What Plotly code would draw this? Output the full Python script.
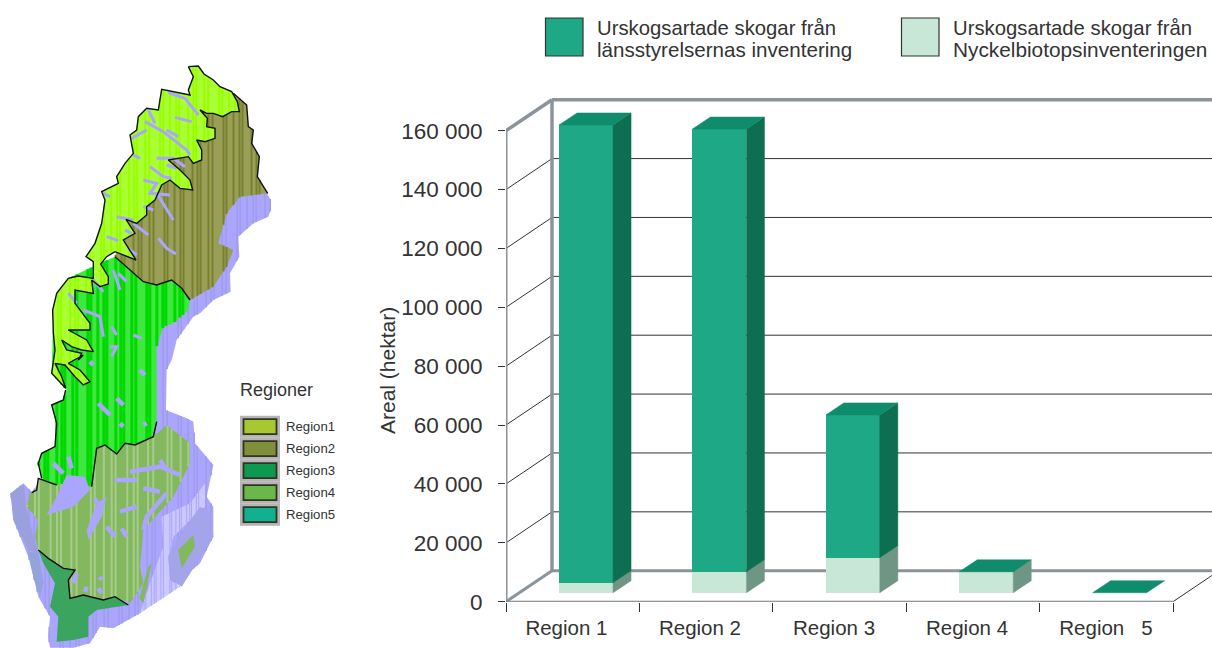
import plotly.graph_objects as go

# ---------- chart data ----------
regions = ["Region 1", "Region 2", "Region 3", "Region 4", "Region\u00a0\u00a0\u00a05"]
lansstyrelsen = [155500, 150400, 48500, 0, 0]
nyckelbiotop = [3400, 7100, 11900, 7100, 0]
y_ticks = [0, 20000, 40000, 60000, 80000, 100000, 120000, 140000, 160000]
y_labels = ["0", "20 000", "40 000", "60 000", "80 000", "100 000", "120 000", "140 000", "160 000"]

W, H = 1212, 648
PX_X = 133.4
PX_Y = 471 / 160000
X0, Y0 = 506, 601.7
wall_dx, wall_dy = 46 / PX_X, 31 / PX_Y
bar_dx, bar_dy = 18 / PX_X, 12 / PX_Y
bar_w = 54 / PX_X
bar_base = 9 / PX_Y
centers = [i + 0.6 for i in range(5)]
label_pos = [0.453, 1.454, 2.459, 3.456, 4.498]
FRAME = "#8b939b"
DARK, DARK_SIDE, DARK_TOP = "#1fa885", "#0e6e52", "#0e8c6c"
LIGHT, LIGHT_SIDE = "#c9e7d6", "#6f9584"

fig = go.Figure()
ax = dict(xaxis="x", yaxis="y", hoverinfo="skip", showlegend=False)
ov = dict(xaxis="x3", yaxis="y3", hoverinfo="skip", showlegend=False)


def line(xs, ys, color, width, clip=True):
    fig.add_trace(go.Scatter(x=xs, y=ys, mode="lines", line=dict(color=color, width=width),
                             cliponaxis=clip, **ax))


def face(xs, ys, color):
    fig.add_trace(go.Scatter(x=xs, y=ys, mode="lines", fill="toself", fillcolor=color,
                             line=dict(color=color, width=0.5), **ov))


xmax = (W - X0) / PX_X
for v in y_ticks[1:-1]:
    line([wall_dx, xmax], [v + wall_dy] * 2, "#333333", 1)
    line([0, wall_dx], [v, v + wall_dy], "#333333", 1)
line([5, 5 + wall_dx], [0, wall_dy], "#333333", 1)
line([wall_dx, xmax], [wall_dy, wall_dy], FRAME, 3, False)
line([wall_dx, xmax], [160000 + wall_dy] * 2, FRAME, 3.5, False)
line([wall_dx, wall_dx], [wall_dy, 160000 + wall_dy], FRAME, 3.5, False)
line([0, wall_dx], [0, wall_dy], FRAME, 3, False)
line([0, wall_dx], [160000, 160000 + wall_dy], FRAME, 3.5, False)
line([0, 0], [0, 160000], FRAME, 3, False)
line([0, 5], [0, 0], "#6f767c", 2, False)

fig.add_trace(go.Bar(x=centers, y=nyckelbiotop, base=[bar_base] * 5, width=bar_w,
                     marker=dict(color=LIGHT, line=dict(width=0)), **ov))
fig.add_trace(go.Bar(x=centers, y=lansstyrelsen,
                     base=[bar_base + n for n in nyckelbiotop], width=bar_w,
                     marker=dict(color=DARK, line=dict(width=0)), **ov))

for c, n, d in zip(centers, nyckelbiotop, lansstyrelsen):
    r = c + bar_w / 2
    l = c - bar_w / 2
    b0, b1, b2 = bar_base, bar_base + n, bar_base + n + d
    if n:
        face([r, r + bar_dx, r + bar_dx, r, r], [b0, b0 + bar_dy, b1 + bar_dy, b1, b0], LIGHT_SIDE)
    if d:
        face([r, r + bar_dx, r + bar_dx, r, r], [b1, b1 + bar_dy, b2 + bar_dy, b2, b1], DARK_SIDE)
    face([l, r, r + bar_dx, l + bar_dx, l], [b2, b2, b2 + bar_dy, b2 + bar_dy, b2], DARK_TOP)


# ---------- map (decorative outlines) ----------
def z1(p):
    return [(x / 3, 60 + y / 3) for x, y in p]


def z2(p):
    return [(x / 3, 350 + y / 3) for x, y in p]


LAVENDER = "#aaa5ff"
silhouette = z1([(790, 380), (812, 420), (812, 450), (805, 470), (760, 490), (715, 530), (718, 590), (690, 640), (692, 695),
                 (640, 720), (600, 760), (580, 770), (530, 840), (515, 900)]) + \
    z2([(500, 60), (498, 180), (560, 205), (580, 215), (585, 280), (640, 345), (620, 440), (640, 470), (640, 560),
        (600, 640), (420, 790), (385, 810), (340, 835), (300, 830), (270, 880), (220, 893), (150, 893), (145, 860),
        (150, 800), (115, 740), (85, 620), (40, 510), (32, 430), (70, 400), (95, 425), (200, 300)]) + \
    z1([(500, 500)])
light_sea = z2([(485, 500), (570, 460), (615, 400), (615, 470), (590, 490), (520, 560), (505, 620), (510, 690),
                (540, 710), (420, 790), (450, 700), (490, 590)])
oland_ring = z2([(600, 470), (635, 490), (640, 560), (590, 640), (545, 710), (510, 690), (505, 620), (530, 570)])
west_tint = z2([(32, 430), (40, 510), (85, 600), (115, 610), (100, 560), (78, 470), (72, 402)])
south_tint = z2([(85, 605), (115, 610), (130, 700), (120, 740), (100, 680)])
region2 = z1([(700, 100), (740, 135), (745, 200), (760, 210), (755, 250), (778, 290), (772, 350), (803, 400),
              (720, 410), (680, 460), (655, 550), (700, 570), (680, 620), (640, 680), (570, 720), (545, 685),
              (515, 660), (470, 675), (430, 665), (385, 625), (345, 590), (400, 400), (600, 150)])
region1 = z1([(565, 20), (595, 18), (612, 42), (640, 60), (660, 80), (695, 95), (712, 125), (718, 155), (695, 155),
              (668, 170), (640, 160), (620, 160), (600, 150), (622, 175), (620, 200), (645, 205), (645, 235),
              (615, 245), (590, 240), (605, 270), (605, 300), (580, 310), (565, 290), (530, 295), (505, 300),
              (540, 330), (570, 360), (578, 390), (540, 385), (510, 360), (485, 375), (465, 420), (440, 440),
              (440, 465), (410, 490), (378, 478), (405, 520), (370, 540), (408, 600), (345, 575), (320, 590),
              (302, 612), (325, 650), (325, 672), (300, 680), (275, 660), (280, 700), (225, 690), (225, 730),
              (270, 790), (270, 810), (205, 810), (260, 840), (280, 875), (245, 870), (215, 860), (185, 840),
              (200, 870), (245, 880), (235, 900)]) + \
    z2([(250, 15), (205, 40), (240, 60), (270, 95), (250, 105), (225, 80), (195, 45), (165, 40), (185, 80), (197, 115),
        (155, 70), (165, 0)]) + \
    z1([(160, 820), (158, 750), (170, 700), (205, 655), (235, 648), (280, 655), (280, 605), (258, 590), (285, 550),
        (305, 490), (315, 420), (305, 395), (355, 370), (350, 350), (375, 310), (400, 280), (390, 225), (410, 210),
        (415, 170), (440, 145), (475, 150), (485, 88), (520, 95), (570, 105), (565, 90), (580, 50)])
region3 = z1([(300, 610), (345, 590), (385, 625), (430, 665), (470, 675), (515, 660), (545, 685), (570, 720),
              (565, 750), (520, 790), (490, 800), (470, 860), (470, 900)]) + \
    z2([(470, 215), (460, 260), (405, 285), (375, 280), (350, 312), (315, 285), (290, 295), (275, 410), (200, 400),
        (170, 405), (125, 385), (115, 340), (125, 310), (165, 290), (170, 220), (155, 165), (190, 150), (200, 120),
        (155, 70)]) + z1([(160, 750), (205, 655)])
region4 = z2([(290, 295), (315, 285), (350, 312), (375, 280), (405, 285), (460, 260), (500, 225), (570, 280),
              (570, 340), (520, 440), (430, 540), (420, 650), (430, 700), (390, 760), (345, 740), (310, 750),
              (250, 735), (210, 745), (205, 690), (225, 660), (190, 655), (145, 625), (115, 600), (105, 560),
              (115, 510), (80, 470), (90, 430), (110, 420), (115, 385), (170, 405), (200, 400), (275, 410)])
island = z2([(535, 600), (580, 555), (585, 590), (545, 655)])
sliver = z2([(445, 650), (455, 640), (430, 760), (418, 745)])
region5 = z2([(115, 600), (145, 625), (190, 655), (225, 660), (205, 690), (210, 745), (250, 735), (310, 750),
              (345, 740), (385, 765), (290, 780), (265, 800), (265, 860), (220, 870), (170, 875), (175, 800),
              (150, 770), (165, 700), (130, 640)])
vanern = z2([(200, 375), (255, 380), (270, 420), (220, 470), (190, 480), (140, 495), (170, 440)])
vattern = z2([(320, 440), (305, 500), (265, 570), (260, 540), (290, 460)])
lakes_north = [[(505, 98), (555, 115), (595, 165)], [(525, 172), (575, 185)], [(435, 185), (490, 215), (560, 270), (570, 285)],
               [(395, 235), (440, 210)], [(500, 210), (535, 230)], [(445, 150), (465, 190)],
               [(470, 295), (520, 295), (555, 320)], [(500, 315), (530, 325)], [(450, 320), (490, 350), (515, 355)],
               [(430, 360), (470, 370), (450, 400), (510, 405)], [(470, 400), (500, 450), (520, 480)],
               [(350, 470), (400, 480)], [(430, 440), (460, 450)], [(400, 490), (445, 525)],
               [(475, 535), (500, 565), (528, 582)], [(320, 530), (355, 542)], [(375, 510), (395, 520)],
               [(385, 565), (410, 585)], [(340, 630), (360, 690)], [(355, 640), (380, 665)], [(280, 660), (310, 695)],
               [(205, 700), (230, 730)], [(250, 750), (300, 770), (310, 830)], [(335, 800), (350, 825)],
               [(400, 825), (425, 835)], [(330, 860), (350, 860), (335, 890)], [(310, 400), (330, 410)],
               [(400, 285), (420, 295)]]
lakes_south = [[(270, 35), (280, 45)], [(420, 60), (435, 75)], [(295, 160), (330, 195)], [(350, 145), (370, 165)],
               [(360, 230), (370, 220)], [(430, 225), (440, 220)], [(160, 340), (190, 370)], [(205, 320), (215, 355)],
               [(345, 390), (410, 390)], [(390, 365), (480, 350), (540, 375)], [(480, 330), (500, 360)],
               [(430, 415), (480, 425)], [(360, 485), (410, 470)], [(320, 530), (345, 560)], [(365, 535), (380, 560)],
               [(285, 445), (290, 460)], [(300, 680), (305, 690)], [(260, 710), (255, 725)], [(295, 715), (305, 730)],
               [(230, 670), (220, 700)], [(500, 430), (440, 500), (430, 540)]]
border_r4_r5 = z2([(115, 600), (145, 625), (190, 655), (225, 660), (205, 690), (210, 745), (250, 735), (310, 750),
                   (345, 740), (385, 765)])
border_r3_r4 = z2([(95, 428), (110, 420), (115, 385), (170, 405)])
border_r3_r4b = z2([(275, 410), (290, 295), (315, 285), (350, 312), (375, 280), (405, 285), (460, 260), (470, 215)])
border_r3_west = z2([(197, 120), (190, 150), (155, 165), (170, 220), (165, 290), (125, 310), (115, 340), (125, 385)])
border_r2 = z1([(700, 100), (740, 135), (745, 200), (760, 210), (755, 250), (778, 290), (772, 350), (803, 400)])
border_r2_r3 = z1([(345, 590), (385, 625), (430, 665), (470, 675), (515, 660), (545, 685), (570, 720)])

mp = dict(xaxis="x2", yaxis="y2", hoverinfo="skip", showlegend=False)
STRIPE_GAPS = [6, 3, 9, 5, 3, 8, 4, 11, 3, 7]


def scan(poly, x):
    out = []
    n = len(poly)
    for i in range(n):
        (x1, y1), (x2, y2) = poly[i], poly[(i + 1) % n]
        if (x1 <= x) != (x2 <= x):
            out.append(y1 + (x - x1) * (y2 - y1) / (x2 - x1))
    return sorted(out)


def region(poly, base, stripe=None, width=1.5, gap=1):
    xs = [p[0] for p in poly] + [poly[0][0]]
    ys = [p[1] for p in poly] + [poly[0][1]]
    fig.add_trace(go.Scatter(x=xs, y=ys, mode="lines", fill="toself", fillcolor=base,
                             line=dict(width=0), **mp))
    if stripe:
        sx, sy = [], []
        x = min(xs) + 0.5
        i = 0
        while x < max(xs):
            hits = scan(poly, x)
            for a, b in zip(hits[::2], hits[1::2]):
                sx += [x, x, None]
                sy += [a, b, None]
            x += STRIPE_GAPS[i % len(STRIPE_GAPS)] * gap
            i += 1
        fig.add_trace(go.Scatter(x=sx, y=sy, mode="lines", line=dict(color=stripe, width=width), **mp))


def path(pts, color, width):
    fig.add_trace(go.Scatter(x=[p[0] for p in pts], y=[p[1] for p in pts], mode="lines",
                             line=dict(color=color, width=width), **mp))


region(silhouette, LAVENDER, "#9f9ceb")
region(light_sea, "#cbc8ff", "#aaa5ff", 1, 0.6)
region(oland_ring, "#a4a4ea")
region(west_tint, "#9a9fde")
region(south_tint, "#93a4da")
region(region2, "#9a9f58", "#79802f", 2)
region(region3, "#3fe83f", "#00d800", 3)
region(region4, "#84b85e", "#a6cc8a", 2, 1.3)
region(island, "#84b85e")
region(sliver, "#84b85e")
region(region5, "#3ba55f")
region(region1, "#a8ff33", "#99ff00", 2)
region(vanern, LAVENDER)
region(vattern, LAVENDER)
for lk in lakes_north:
    path(z1(lk), LAVENDER, 3)
for lk in lakes_south:
    path(z2(lk), LAVENDER, 4.5)
path(region1 + region1[:1], "#111111", 1.4)
for b in (border_r2, border_r2_r3, border_r3_r4, border_r3_r4b, border_r3_west, border_r4_r5):
    path(b, "#111111", 1.4)

# ---------- text, legends ----------
ann = []


def text(x, y, s, size, anchor="left", angle=0):
    ann.append(dict(x=x / W, y=1 - y / H, xref="paper", yref="paper", text=s, showarrow=False,
                    xanchor=anchor, yanchor="middle", textangle=angle,
                    font=dict(size=size, color="#333333"), borderpad=0, borderwidth=0))


legend_a = ["Urskogsartade skogar från", "länsstyrelsernas inventering"]
legend_b = ["Urskogsartade skogar från", "Nyckelbiotopsinventeringen"]
text(597, 28, legend_a[0], 20.3)
text(597, 49.5, legend_a[1], 20.6)
text(953, 28, legend_b[0], 20.3)
text(953, 49.5, legend_b[1], 20.8)
text(387, 371, "Areal (hektar)", 21, "center", -90)
text(240, 390, "Regioner", 18)
map_names = ["Region1", "Region2", "Region3", "Region4", "Region5"]
map_colors = ["#a8c832", "#7f8f3c", "#0d9a50", "#6ab84a", "#10b090"]
map_rows = [426.7, 448.7, 470.7, 492.7, 514.7]
shapes = []


def rect(x0, y0, x1, y1, fill, lc, lw):
    shapes.append(dict(type="rect", xref="paper", yref="paper", x0=x0 / W, x1=x1 / W,
                       y0=1 - y1 / H, y1=1 - y0 / H, fillcolor=fill, line=dict(color=lc, width=lw)))


rect(545.5, 18, 583, 56, DARK, "#333333", 1.2)
rect(901.5, 18, 939, 56, LIGHT, "#333333", 1.2)
for nm, col, row in zip(map_names, map_colors, map_rows):
    rect(242.5, row - 8.5, 277.5, row + 8.5, "rgba(0,0,0,0)", "#b5b5b5", 5)
    rect(243.5, row - 7.5, 276.5, row + 7.5, col, "#333322", 1.8)
    text(286, row, nm, 13.2)

fig.update_layout(
    width=W, height=H, autosize=False, margin=dict(l=0, r=0, t=0, b=0, autoexpand=False),
    paper_bgcolor="white", plot_bgcolor="rgba(0,0,0,0)",
    font=dict(family="Liberation Sans", color="#333333"), barmode="overlay", bargap=0,
    annotations=ann, shapes=shapes, showlegend=False,
    xaxis=dict(domain=[X0 / W, 1], range=[0, xmax], tickmode="array", tickvals=label_pos, ticktext=regions,
               ticks="", showgrid=False, zeroline=False, showline=False, tickfont=dict(size=20.5), ticklabelstandoff=12,
               minor=dict(tickmode="array", tickvals=[0, 1, 2, 3, 4, 5], ticks="outside", ticklen=9, tickcolor="#333333",
                          tickwidth=1, showgrid=False)),
    yaxis=dict(domain=[1 - Y0 / H, 1 - 90 / H], range=[0, (Y0 - 90) / PX_Y], tickmode="array", tickvals=y_ticks,
               ticktext=y_labels, ticks="outside", ticklen=7, tickcolor="#333333", tickwidth=1, showgrid=False,
               zeroline=False, showline=False, tickfont=dict(size=22.5), ticklabelstandoff=11, anchor="x"),
    xaxis2=dict(domain=[0, 350 / W], range=[0, 350], visible=False, anchor="y2"),
    yaxis2=dict(domain=[0, 1], range=[H, 0], visible=False, anchor="x2"),
    xaxis3=dict(domain=[X0 / W, 1], range=[0, xmax], visible=False, overlaying="x", anchor="y3"),
    yaxis3=dict(domain=[1 - Y0 / H, 1 - 90 / H], range=[0, (Y0 - 90) / PX_Y], visible=False, overlaying="y", anchor="x3"),
)

fig.write_html("out.html", config=dict(displayModeBar=False, responsive=False),
               post_script="document.body.style.margin='0';document.body.style.overflow='hidden';")
